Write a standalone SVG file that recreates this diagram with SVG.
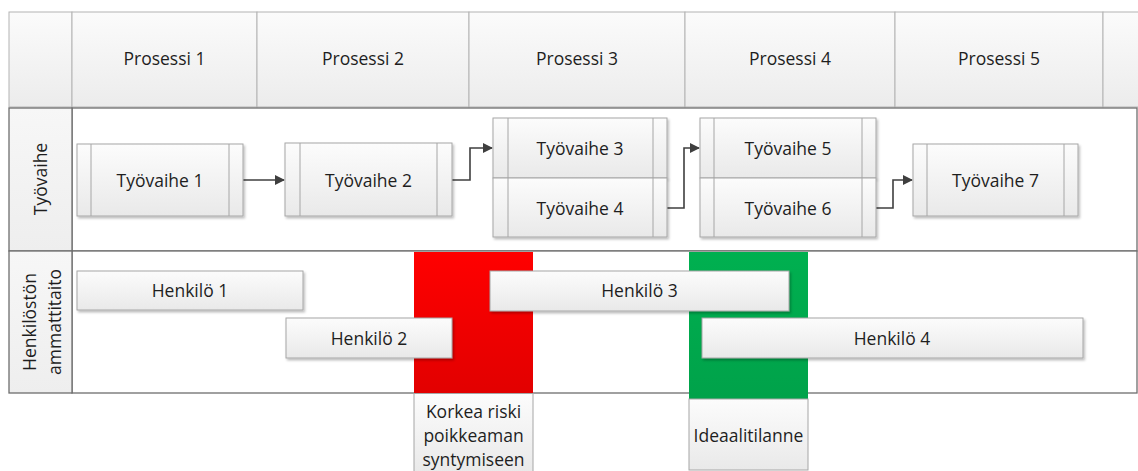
<svg xmlns="http://www.w3.org/2000/svg" width="1138" height="471" viewBox="0 0 1138 471">
<style>
text{font-family:"Open Sans","Liberation Sans",sans-serif;font-size:17.5px;fill:#1e1e1e;text-anchor:middle;dominant-baseline:central}
.hdr{fill:url(#gh);stroke:#b4b4b4;stroke-width:1}
.lane{fill:#fff;stroke:#6e6e6e;stroke-width:1.3}
.lbl{fill:url(#gl);stroke:#6e6e6e;stroke-width:1.3}
.box{fill:url(#gb);stroke:#a6a6a6;stroke-width:1;filter:url(#sh)}
.in{stroke:#a6a6a6;stroke-width:1;fill:none}
.conn{fill:none;stroke:#3f3f3f;stroke-width:1.6;marker-end:url(#arr)}
.note{fill:url(#gb);stroke:#a6a6a6;stroke-width:1}
</style>
<defs>
<linearGradient id="gh" x1="0" y1="0" x2="0" y2="1"><stop offset="0" stop-color="#fbfbfb"/><stop offset="1" stop-color="#ececec"/></linearGradient>
<linearGradient id="gl" x1="0" y1="0" x2="0" y2="1"><stop offset="0" stop-color="#f7f7f7"/><stop offset="1" stop-color="#eeeeee"/></linearGradient>
<linearGradient id="gb" x1="0" y1="0" x2="0" y2="1"><stop offset="0" stop-color="#fcfcfc"/><stop offset="1" stop-color="#e9e9e9"/></linearGradient>
<linearGradient id="gr" x1="0" y1="0" x2="0" y2="1"><stop offset="0" stop-color="#ff0000"/><stop offset="1" stop-color="#e20000"/></linearGradient>
<linearGradient id="gg" x1="0" y1="0" x2="0" y2="1"><stop offset="0" stop-color="#00b050"/><stop offset="1" stop-color="#00a24a"/></linearGradient>
<filter id="sh" x="-10%" y="-20%" width="130%" height="160%"><feDropShadow dx="1.5" dy="2" stdDeviation="1.2" flood-color="#000" flood-opacity="0.25"/></filter>
<marker id="arr" viewBox="0 0 10 10" refX="9" refY="5" markerWidth="10" markerHeight="10" markerUnits="userSpaceOnUse" orient="auto"><path d="M0,0 L10,5 L0,10 z" fill="#3f3f3f"/></marker>
</defs>

<g id="header">
<rect class="hdr" x="9" y="12" width="63" height="95"/>
<g id="p1"><rect class="hdr" x="72" y="12" width="185" height="95"/><text x="164.5" y="58">Prosessi 1</text></g>
<g id="p2"><rect class="hdr" x="257" y="12" width="212" height="95"/><text x="363" y="58">Prosessi 2</text></g>
<g id="p3"><rect class="hdr" x="469" y="12" width="216" height="95"/><text x="577" y="58">Prosessi 3</text></g>
<g id="p4"><rect class="hdr" x="685" y="12" width="210" height="95"/><text x="790" y="58">Prosessi 4</text></g>
<g id="p5"><rect class="hdr" x="895" y="12" width="208" height="95"/><text x="999" y="58">Prosessi 5</text></g>
<rect class="hdr" x="1103" y="12" width="50" height="95"/>
</g>

<g id="lanes">
<rect class="lane" x="72" y="108" width="1065" height="143"/>
<rect class="lane" x="72" y="251" width="1065" height="142"/>
<g id="lane1-label"><rect class="lbl" x="9" y="108" width="63" height="143"/><text transform="translate(40,179) rotate(-90)">Työvaihe</text></g>
<g id="lane2-label"><rect class="lbl" x="9" y="251" width="63" height="142"/><text transform="translate(29,322) rotate(-90)">Henkilöstön</text><text transform="translate(54,322) rotate(-90)">ammattitaito</text></g>
</g>

<g id="risk-zones">
<rect x="414" y="252" width="119" height="141.5" fill="url(#gr)"/>
<rect x="689" y="252" width="119" height="147" fill="url(#gg)"/>
</g>

<g id="connectors">
<path class="conn" d="M243,180 H284"/>
<path class="conn" d="M452,180 H470 V148 H492"/>
<path class="conn" d="M667,208 H684 V148 H699"/>
<path class="conn" d="M876,208 H893 V180 H912"/>
</g>

<g id="tv1"><rect class="box" x="77" y="144" width="166" height="72"/><path class="in" d="M91,144V216M229,144V216"/><text x="160" y="180">Työvaihe 1</text></g>
<g id="tv2"><rect class="box" x="285" y="143" width="167" height="73"/><path class="in" d="M300,143V216M437,143V216"/><text x="368.5" y="180">Työvaihe 2</text></g>
<g id="tv3"><rect class="box" x="493" y="118" width="174" height="60"/><path class="in" d="M508,118V178M653,118V178"/><text x="580" y="148">Työvaihe 3</text></g>
<g id="tv4"><rect class="box" x="493" y="178" width="174" height="59"/><path class="in" d="M508,178V237M653,178V237"/><text x="580" y="208">Työvaihe 4</text></g>
<g id="tv5"><rect class="box" x="700" y="118" width="176" height="60"/><path class="in" d="M714,118V178M862,118V178"/><text x="788" y="148">Työvaihe 5</text></g>
<g id="tv6"><rect class="box" x="700" y="178" width="176" height="59"/><path class="in" d="M714,178V237M862,178V237"/><text x="788" y="208">Työvaihe 6</text></g>
<g id="tv7"><rect class="box" x="913" y="144" width="165" height="72"/><path class="in" d="M927,144V216M1064,144V216"/><text x="995.5" y="180">Työvaihe 7</text></g>

<g id="h1"><rect class="box" x="77" y="271" width="226" height="39"/><text x="190" y="290">Henkilö 1</text></g>
<g id="h2"><rect class="box" x="286" y="318" width="166" height="40"/><text x="369" y="338">Henkilö 2</text></g>
<g id="h3"><rect class="box" x="490" y="271" width="299" height="40"/><text x="639.5" y="290">Henkilö 3</text></g>
<g id="h4"><rect class="box" x="702" y="318" width="381" height="40"/><text x="892" y="338">Henkilö 4</text></g>

<g id="risk-label"><rect class="note" x="414" y="393.5" width="119" height="80"/><text x="473.5" y="411">Korkea riski</text><text x="473.5" y="435">poikkeaman</text><text x="473.5" y="459">syntymiseen</text></g>
<g id="ideal-label"><rect class="note" x="689" y="399" width="119" height="71"/><text x="748.5" y="435">Ideaalitilanne</text></g>
</svg>
